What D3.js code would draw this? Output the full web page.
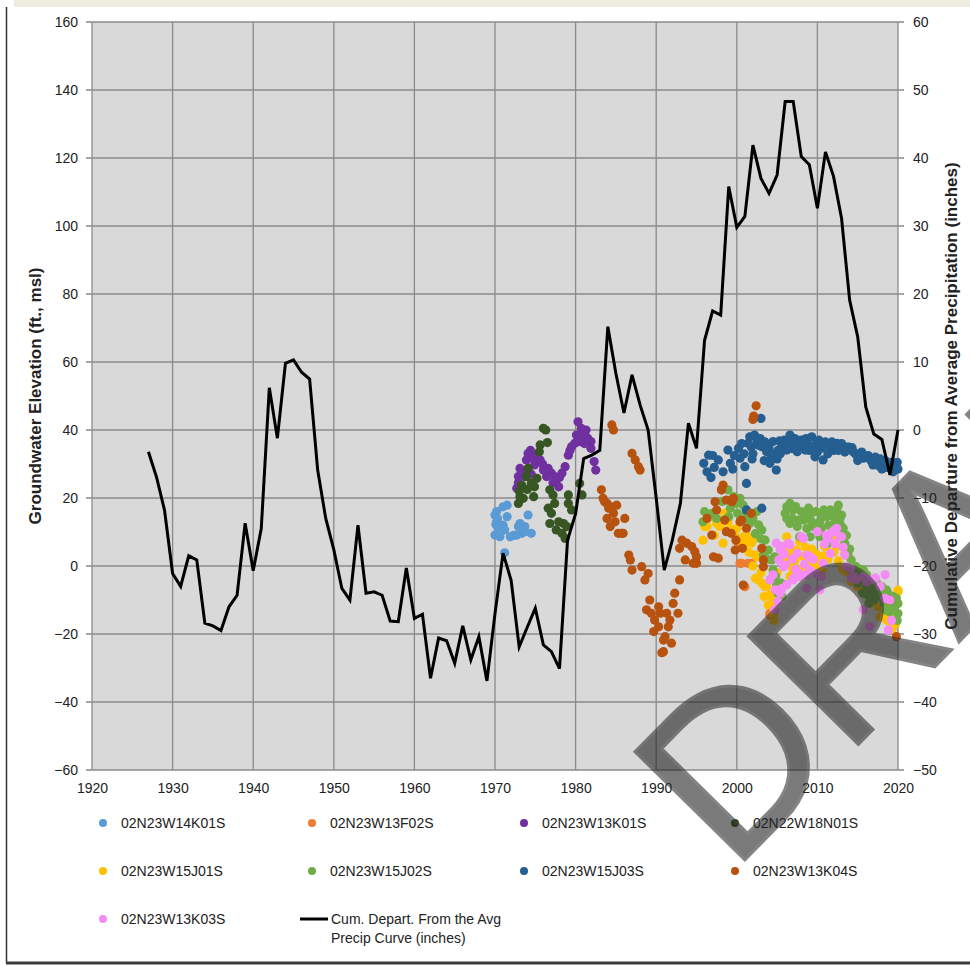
<!DOCTYPE html>
<html><head><meta charset="utf-8">
<script src="https://cdn.jsdelivr.net/npm/d3@7"></script>
<style>
html,body{margin:0;padding:0;background:#fff;}
svg{display:block;}
text{font-family:'Liberation Sans',Arial,sans-serif;fill:#222;}
</style></head>
<body>
<div id="chart"></div>
<script>
// ---------- DATA ----------
const xTicks = [1920,1930,1940,1950,1960,1970,1980,1990,2000,2010,2020];
const leftTicks = [-60,-40,-20,0,20,40,60,80,100,120,140,160];
const rightTicks = [-50,-40,-30,-20,-10,0,10,20,30,40,50,60];

const seriesNames = ["02N23W14K01S","02N23W13F02S","02N23W13K01S","02N22W18N01S","02N23W15J01S","02N23W15J02S","02N23W15J03S","02N23W13K04S","02N23W13K03S"];
const seriesColors = ["#5b9bd5","#ed7d31","#7030a0","#375623","#ffc000","#70ad47","#255e91","#b8520f","#f58cf5"];
const lineName = ["Cum. Depart. From the Avg","Precip Curve (inches)"];

const w14k01 = [[1970.0,15.0],[1970.2,13.0],[1970.4,11.1],[1970.8,11.6],[1971.0,17.4],[1971.5,17.9],[1971.5,14.5],[1971.2,10.6],[1970.0,9.1],[1970.6,8.6],[1971.9,8.6],[1971.2,3.9],[1972.9,11.6],[1973.3,9.6],[1973.1,12.5],[1973.7,11.6],[1974.1,15.0],[1974.5,9.6],[1973.7,10.1],[1972.7,9.1],[1970.2,16.0],[1970.3,14.0],[1970.1,12.2],[1971.0,12.0],[1972.3,9.0]];
const w13f02 = [[1999.9,8.1],[2000.4,0.8],[2000.6,0.8],[2001.4,0.8],[2001.8,0.8],[2001.0,-6.1],[2004.1,-13.9],[2004.1,-14.4],[2000.1,7.0]];
const w13k01 = [[1974.1,33.1],[1975.2,32.6],[1975.6,31.2],[1974.8,31.7],[1973.9,31.2],[1973.1,28.7],[1972.9,26.3],[1973.3,27.7],[1972.7,22.9],[1973.7,26.3],[1974.9,29.7],[1976.0,28.2],[1976.6,28.7],[1977.0,27.3],[1976.4,26.3],[1977.4,26.3],[1977.6,25.3],[1977.9,23.3],[1978.3,27.3],[1978.7,29.2],[1979.1,32.6],[1979.5,35.1],[1980.1,38.5],[1980.3,42.4],[1980.5,36.6],[1980.9,38.5],[1981.3,40.0],[1981.5,37.6],[1981.9,36.6],[1981.9,34.6],[1982.3,30.7],[1982.5,28.2],[1979.9,36.1],[1974.4,34.0],[1975.9,30.0],[1977.2,24.5],[1978.0,26.0],[1974.5,27.0],[1972.9,24.5],[1980.7,40.5],[1979.3,34.0],[1981.1,36.0]];
const w18n01 = [[1976.0,40.5],[1976.3,40.0],[1976.5,36.3],[1975.6,35.6],[1975.5,33.6],[1974.1,28.7],[1973.9,26.3],[1973.3,23.8],[1974.5,24.3],[1975.2,25.8],[1974.9,23.3],[1973.1,20.4],[1972.9,18.4],[1973.5,19.9],[1974.8,20.4],[1976.8,22.4],[1977.2,20.9],[1977.4,18.4],[1976.6,17.0],[1977.0,15.5],[1976.8,12.5],[1977.9,13.0],[1978.5,12.5],[1977.6,10.6],[1978.3,9.6],[1978.7,8.1],[1979.1,20.9],[1979.1,18.4],[1980.5,24.3],[1980.8,20.9],[1979.5,16.5],[1978.9,11.6],[1973.0,22.0],[1974.0,22.5]];
const w15j01 = [[1996.0,11.6],[1995.8,7.6],[1996.9,14.5],[1997.9,11.6],[1998.7,13.5],[1998.3,6.7],[1999.6,9.6],[2000.4,7.6],[2001.2,9.1],[2001.8,6.7],[2002.3,3.2],[2002.7,-4.1],[2003.5,-6.1],[2004.1,-8.5],[2004.5,-10.5],[2004.7,-12.9],[2005.8,5.7],[2006.0,1.8],[2006.6,3.7],[2007.0,-0.2],[2007.4,4.7],[2008.3,2.7],[2008.7,-0.2],[2009.1,3.7],[2009.7,1.3],[2010.3,2.7],[2010.9,5.7],[2011.6,8.1],[2012.4,5.7],[2006.6,-3.1],[2007.8,-3.1],[2006.2,8.6],[2012.8,8.6],[2013.4,3.7],[2016.1,-6.1],[2016.7,-8.0],[2017.5,-12.0],[2018.4,-13.9],[2018.8,-15.9],[2020.0,-7.1],[2019.0,-14.4],[2019.4,-12.9],[1996.3,11.6],[1998.5,15.5],[1998.9,13.0],[2000.8,8.6],[2001.2,6.7],[2002.0,7.6],[2002.5,2.7],[2002.3,-3.6],[2003.1,-5.1],[2003.7,-6.1],[2004.3,-9.0],[2004.5,-11.0],[2005.6,3.7],[2006.4,0.8],[2007.5,3.2],[2008.7,1.8],[2009.5,-0.2],[2010.3,2.7],[2011.1,5.7],[2011.8,7.6],[2007.0,-1.2],[2007.8,7.2],[2006.2,6.2],[2016.9,-6.1],[2017.8,-12.0],[2018.6,-15.9],[2020.0,-7.5],[2004.6,-14.5],[2004.6,-16.0],[2005.0,-2.0],[2008.0,-1.0],[2009.9,0.0],[2013.8,-2.0],[2014.6,-4.0],[2015.2,-3.0],[2019.7,-17.0],[2018.9,-18.5],[2017.2,-9.0],[1997.2,9.0],[1999.1,11.0],[2001.5,4.0],[2003.0,-2.0],[2006.8,0.0],[2007.2,1.5],[2008.5,5.5],[2008.1,-2.5],[2009.3,5.0],[2009.8,3.5],[2010.6,-1.0],[2010.8,3.0],[2011.3,2.0],[2012.0,4.0],[2012.6,1.5],[2013.1,-1.0],[2014.2,-4.5],[2015.0,-6.0],[2015.6,-7.0],[2016.5,-10.0],[2017.8,-15.0],[2019.3,-18.5],[2003.4,-9.0],[2003.9,-11.5],[2005.2,-5.0],[2002.0,0.0],[2000.0,11.0],[1997.5,12.5]];
const w15j02 = [[1996.0,16.0],[1996.9,15.5],[1998.9,22.4],[1999.6,20.4],[1999.9,18.4],[2000.4,19.9],[2000.8,17.9],[2001.2,15.5],[2002.0,14.0],[2002.7,12.1],[2003.1,10.6],[2003.5,7.6],[2003.9,4.7],[2004.3,1.8],[2004.5,-1.2],[2004.9,-5.1],[2006.2,17.4],[2007.0,16.5],[2006.6,12.5],[2007.5,11.6],[2008.3,13.5],[2009.1,15.0],[2009.5,11.6],[2010.3,13.0],[2011.1,14.5],[2011.9,16.0],[2012.8,14.0],[2013.2,11.1],[2013.4,6.7],[2013.8,3.2],[2014.2,1.8],[2014.8,-0.2],[2015.7,-1.2],[2016.1,-2.6],[2016.5,-4.6],[2017.4,-5.1],[2018.0,-6.1],[2018.6,-7.1],[2019.4,-9.0],[2020.0,-11.0],[2019.6,-12.0],[2017.8,-9.0],[2016.9,-8.0],[2016.1,-6.1],[2015.3,-3.1],[2014.5,-2.2],[2011.3,6.7],[2010.3,8.6],[2009.1,8.6],[2007.8,8.6],[2006.2,14.0],[2011.9,10.1],[2012.6,17.9],[2006.6,18.4],[2003.3,3.2],[2004.7,2.7],[1995.8,13.0],[1997.5,14.0],[1998.2,19.0],[1999.2,17.0],[2000.1,15.5],[2001.6,12.5],[2002.3,9.5],[2005.1,-8.0],[2004.2,-4.0],[2008.7,11.0],[2010.0,11.5],[2012.2,12.5],[2013.0,15.0],[2015.0,-5.0],[2017.0,-10.0],[2018.3,-11.0],[2019.0,-13.5],[2020.0,-14.0],[2016.4,-11.0],[2015.6,-8.0],[2014.1,-1.0],[2008.0,16.0],[2010.8,16.5],[2006.0,15.5],[2006.9,14.0],[2007.3,17.5],[2007.7,13.5],[2008.5,15.5],[2008.9,17.0],[2009.3,13.0],[2009.8,16.0],[2010.5,11.0],[2010.6,15.0],[2011.4,12.0],[2011.6,16.5],[2012.0,14.5],[2012.4,16.5],[2012.9,12.0],[2013.6,9.0],[2014.0,5.0],[2014.4,0.0],[2014.9,-3.0],[2015.4,-1.0],[2015.9,-4.0],[2016.3,-8.5],[2016.7,-6.5],[2017.1,-7.0],[2017.6,-8.0],[2018.1,-9.5],[2018.5,-13.0],[2018.9,-8.5],[2019.2,-11.0],[2019.8,-9.5],[2019.9,-16.0],[2005.5,-5.0],[2005.6,-9.0],[2004.8,-3.0],[2003.7,2.0],[2001.0,13.5],[1999.0,14.5],[2002.5,16.0],[2003.0,8.0]];
const w15j03 = [[1995.9,30.2],[1996.5,32.6],[1996.3,27.7],[1997.7,31.2],[1998.3,27.7],[1998.9,34.1],[1999.2,30.2],[2000.2,34.6],[2000.4,31.7],[2001.0,29.2],[2001.2,24.3],[2001.6,38.0],[2001.4,36.1],[2002.5,36.6],[2003.1,35.1],[2003.7,33.6],[2004.1,30.2],[2004.9,28.2],[2004.5,36.6],[2005.6,35.6],[2006.6,38.5],[2007.0,36.1],[2007.8,35.1],[2008.5,34.1],[2009.3,38.0],[2009.9,36.1],[2009.7,32.1],[2010.7,31.2],[2010.5,34.6],[2011.6,35.1],[2012.4,36.1],[2013.2,34.6],[2014.1,34.1],[2014.9,32.6],[2015.7,31.7],[2016.6,31.2],[2017.4,30.2],[2018.2,30.2],[2019.0,29.2],[2019.6,29.7],[2019.4,27.7],[2016.9,29.7],[2004.3,32.1],[2006.2,34.1],[2007.5,33.6],[2001.2,16.5],[2003.1,17.0],[2003.0,43.4],[1998.1,22.4],[1996.8,26.0],[1997.2,29.0],[1999.7,32.5],[2000.9,33.0],[2002.0,33.0],[2002.9,37.5],[2003.4,31.0],[2005.1,34.0],[2005.9,37.0],[2006.9,34.5],[2008.0,37.0],[2008.8,36.0],[2009.0,34.0],[2010.2,37.0],[2011.0,36.5],[2011.3,33.0],[2012.0,34.0],[2012.8,35.5],[2013.6,35.0],[2014.5,33.5],[2015.3,33.0],[2016.0,32.0],[2017.0,31.0],[2017.8,31.5],[2018.6,29.0],[2019.9,30.5],[2020.0,28.5],[2018.0,28.5],[2015.0,31.0],[2001.8,35.0],[2002.2,38.5],[2002.7,35.5],[2003.5,36.5],[2003.9,35.0],[2004.7,33.0],[2005.3,36.8],[2005.4,33.0],[2006.0,35.5],[2006.4,36.5],[2007.2,37.5],[2007.6,36.0],[2008.2,35.5],[2008.6,37.5],[2009.5,35.0],[2010.0,33.5],[2010.9,35.5],[2011.8,36.5],[2012.2,35.5],[2012.6,34.0],[2013.0,36.0],[2013.4,33.5],[2013.9,35.0],[2014.3,34.8],[2014.7,33.0],[2015.1,32.0],[2015.5,33.5],[2016.3,32.5],[2016.8,30.5],[2017.2,32.0],[2017.6,29.5],[2018.4,31.0],[2018.8,30.0],[2019.2,30.5],[2019.8,29.0],[1997.0,32.5],[1999.5,28.5],[2000.6,36.0],[2001.9,31.5],[2004.0,34.5],[2005.0,31.5]];
const w13k04 = [[1984.5,41.5],[1984.7,40.0],[1987.0,33.1],[1987.4,31.2],[1987.8,29.2],[1988.0,28.2],[1983.2,22.4],[1983.4,19.9],[1983.9,18.4],[1984.1,17.0],[1985.1,17.9],[1984.7,15.5],[1983.9,14.0],[1986.1,14.0],[1984.3,11.6],[1985.3,9.6],[1985.9,9.6],[1986.6,3.2],[1986.8,1.8],[1987.0,-1.2],[1988.2,-0.2],[1989.0,-2.2],[1988.6,-4.1],[1989.2,-10.0],[1988.8,-12.9],[1989.4,-13.9],[1989.8,-15.9],[1990.5,-13.9],[1990.3,-17.9],[1989.7,-19.3],[1991.7,-15.9],[1992.1,-11.0],[1992.7,-13.9],[1992.3,-8.0],[1992.9,-4.1],[1991.5,-17.9],[1991.1,-20.8],[1991.9,-22.7],[1990.9,-25.2],[1990.7,-25.5],[1990.3,-12.0],[1991.3,-13.9],[1990.9,-21.8],[1993.2,7.6],[1993.8,6.7],[1994.4,5.7],[1994.8,4.2],[1994.6,0.8],[1993.6,1.8],[1992.9,5.2],[1995.0,2.7],[1983.6,18.9],[1984.5,17.4],[1984.9,13.0],[1985.7,9.6],[1997.1,2.7],[1997.7,2.3],[1996.3,14.0],[1997.3,18.9],[1998.1,22.4],[1998.3,23.8],[1998.7,19.4],[1999.4,18.9],[1997.5,16.5],[1998.5,13.5],[1998.7,10.1],[2000.4,13.0],[2001.2,11.1],[1999.9,7.6],[2000.7,5.2],[1999.8,4.7],[2001.8,15.5],[2003.1,5.2],[2003.3,1.8],[2003.3,-0.2],[2000.8,-5.6],[2002.4,47.1],[2002.1,44.1],[2002.0,43.1],[2019.0,-10.0],[2019.8,-20.8],[1999.3,9.6],[1996.9,9.1],[1995.0,0.8],[1999.6,19.9],[2000.6,13.5]];
const w13k03 = [[2004.9,6.7],[2005.4,4.7],[2005.2,1.8],[2004.5,-2.6],[2005.8,-0.2],[2005.4,-8.0],[2005.6,-6.6],[2004.7,-12.9],[2007.0,-3.6],[2007.8,-3.1],[2008.7,-2.6],[2009.9,-2.2],[2006.6,6.2],[2008.0,8.6],[2009.1,2.7],[2010.0,10.1],[2011.1,9.1],[2012.1,10.6],[2012.8,8.6],[2011.6,3.7],[2010.7,0.8],[2013.4,3.2],[2013.6,-0.2],[2014.2,-3.6],[2016.1,-4.6],[2016.7,-4.1],[2018.4,-2.6],[2018.4,-9.5],[2018.8,-18.8],[2004.1,-4.1],[2007.0,-4.1],[2011.9,10.1],[2012.4,11.1],[2013.0,8.6],[2014.1,-0.7],[2014.5,-3.1],[2015.7,-3.1],[2016.3,-4.1],[2008.3,8.1],[2008.7,3.2],[2007.8,-2.2],[2009.1,-1.2],[2010.5,-3.1],[2005.6,5.7],[2006.4,6.7],[2006.0,0.3],[2007.5,3.7],[2008.7,-6.6],[2010.3,-7.0],[2015.7,-12.9],[2016.5,-17.8],[2005.1,-10.5],[2019.2,-16.0],[2005.9,3.5],[2006.9,2.0],[2007.3,-1.0],[2008.4,0.5],[2009.5,2.0],[2010.9,6.5],[2011.4,8.0],[2012.2,6.5],[2013.2,5.5],[2014.8,-4.0],[2017.2,-3.5],[2017.8,-6.0],[2019.0,-10.0],[2004.8,-7.0],[2006.2,-5.5]];

const precipYears = [1927,1928,1929,1930,1931,1932,1933,1934,1935,1936,1937,1938,1939,1940,1941,1942,1943,1944,1945,1946,1947,1948,1949,1950,1951,1952,1953,1954,1955,1956,1957,1958,1959,1960,1961,1962,1963,1964,1965,1966,1967,1968,1969,1970,1971,1972,1973,1974,1975,1976,1977,1978,1979,1980,1981,1982,1983,1984,1985,1986,1987,1988,1989,1990,1991,1992,1993,1994,1995,1996,1997,1998,1999,2000,2001,2002,2003,2004,2005,2006,2007,2008,2009,2010,2011,2012,2013,2014,2015,2016,2017,2018,2019,2020];
const precipCum = [-3.2,-6.9,-11.8,-21.1,-23.0,-18.5,-19.1,-28.4,-28.8,-29.5,-26.0,-24.3,-13.7,-20.7,-14.5,6.2,-1.2,9.8,10.3,8.5,7.5,-5.9,-13.0,-17.6,-23.3,-25.0,-14.0,-24.0,-23.8,-24.3,-28.1,-28.2,-20.3,-27.7,-27.1,-36.5,-30.6,-31.0,-34.3,-28.8,-33.8,-30.4,-36.9,-27.0,-18.1,-22.1,-31.9,-29.0,-26.2,-31.6,-32.6,-35.1,-16.2,-12.3,-4.2,-3.7,-3.0,15.2,8.3,2.5,8.1,3.7,0.0,-10.0,-20.6,-16.2,-10.8,1.0,-2.7,13.2,17.5,16.9,35.8,29.8,31.4,41.9,37.0,34.8,37.5,48.3,48.3,40.2,39.0,32.6,40.9,37.3,31.1,19.1,13.7,3.4,-0.6,-1.4,-6.6,0.0];

const watermark = "DRAFT";

// ---------- CHART ----------
const W = 970, H = 966;
const svg = d3.select("#chart").append("svg").attr("width", W).attr("height", H);

// frame
svg.append("rect").attr("x",14).attr("y",0).attr("width",W-14).attr("height",7).attr("fill","#eeebe1");
svg.append("line").attr("x1",6.5).attr("x2",6.5).attr("y1",7).attr("y2",963).attr("stroke","#333").attr("stroke-width",1.5);
svg.append("line").attr("x1",6).attr("x2",W).attr("y1",963).attr("y2",963).attr("stroke","#3a3a3a").attr("stroke-width",3);

const x = d3.scaleLinear().domain([1920,2020]).range([92,898]);
const yL = d3.scaleLinear().domain([-60,160]).range([770,22]);
const yR = d3.scaleLinear().domain([-50,60]).range([770,22]);

// plot background
svg.append("rect").attr("x",x(1920)).attr("y",yL(160)).attr("width",x(2020)-x(1920)).attr("height",yL(-60)-yL(160)).attr("fill","#d9d9d9");

// gridlines
const grid = svg.append("g").attr("stroke","#8a8a8a").attr("stroke-width",1.3);
grid.selectAll("line.h").data(leftTicks).join("line").attr("class","h")
  .attr("x1",x(1920)-6).attr("x2",x(2020)+6).attr("y1",d=>yL(d)).attr("y2",d=>yL(d));
grid.selectAll("line.v").data(xTicks).join("line").attr("class","v")
  .attr("x1",d=>x(d)).attr("x2",d=>x(d)).attr("y1",yL(160)).attr("y2",yL(-60));

// axes labels via d3 axes
const axL = svg.append("g").attr("transform",`translate(${x(1920)},0)`)
  .call(d3.axisLeft(yL).tickValues(leftTicks).tickSize(0).tickPadding(14));
const axR = svg.append("g").attr("transform",`translate(${x(2020)},0)`)
  .call(d3.axisRight(yR).tickValues(rightTicks).tickSize(0).tickPadding(15));
const axB = svg.append("g").attr("transform",`translate(0,${yL(-60)})`)
  .call(d3.axisBottom(x).tickValues(xTicks).tickFormat(d3.format("d")).tickSize(0).tickPadding(13));
[axL,axR,axB].forEach(a=>{
  a.select(".domain").remove();
  a.selectAll("text").style("font-family","'Liberation Sans',Arial,sans-serif").style("font-size","14px").attr("fill","#222");
});

// axis titles
svg.append("text").attr("transform",`translate(41,${(yL(160)+yL(-60))/2}) rotate(-90)`)
  .attr("text-anchor","middle").style("font-size","17px").style("font-weight","bold")
  .text("Groundwater Elevation (ft., msl)");
svg.append("text").attr("transform",`translate(957,${(yL(160)+yL(-60))/2}) rotate(-90)`)
  .attr("text-anchor","middle").style("font-size","17px").style("font-weight","bold")
  .text("Cumulative Departure from Average Precipitation (inches)");

// scatter series
const allSeries = [w14k01,w13f02,w13k01,w18n01,w15j01,w15j02,w15j03,w13k04,w13k03];
const pts = svg.append("g");
allSeries.forEach((s,i)=>{
  pts.append("g").selectAll("circle").data(s).join("circle")
    .attr("cx",d=>x(d[0])).attr("cy",d=>yL(d[1])).attr("r",4.6).attr("fill",seriesColors[i]);
});

// line
const lineData = precipYears.map((y,i)=>[y,precipCum[i]]);
svg.append("path").datum(lineData)
  .attr("d", d3.line().x(d=>x(d[0])).y(d=>yR(d[1])))
  .attr("fill","none").attr("stroke","#000").attr("stroke-width",3).attr("stroke-linejoin","miter");

// legend
const legX = [103,312,524,735], legY = [823,871,919];
const leg = svg.append("g");
seriesNames.forEach((n,i)=>{
  const cx = legX[i%4], cy = legY[Math.floor(i/4)];
  leg.append("circle").attr("cx",cx).attr("cy",cy).attr("r",4).attr("fill",seriesColors[i]);
  leg.append("text").attr("x",cx+18).attr("y",cy).attr("dy","0.35em")
    .style("font-size","14px").text(n);
});
leg.append("line").attr("x1",300).attr("x2",328).attr("y1",legY[2]).attr("y2",legY[2]).attr("stroke","#000").attr("stroke-width",3);
lineName.forEach((t,i)=>{
  leg.append("text").attr("x",331).attr("y",legY[2]+i*19).attr("dy","0.35em")
    .style("font-size","14px").text(t);
});

// watermark
const wm = svg.append("g").attr("opacity",0.6).attr("transform","translate(732,873) rotate(-45.5)");
wm.append("text").attr("x",0).attr("y",0)
  .style("font-size","224px")
  .attr("fill","#333").attr("stroke","#333").attr("stroke-width",3).text(watermark);
</script>
</body></html>
